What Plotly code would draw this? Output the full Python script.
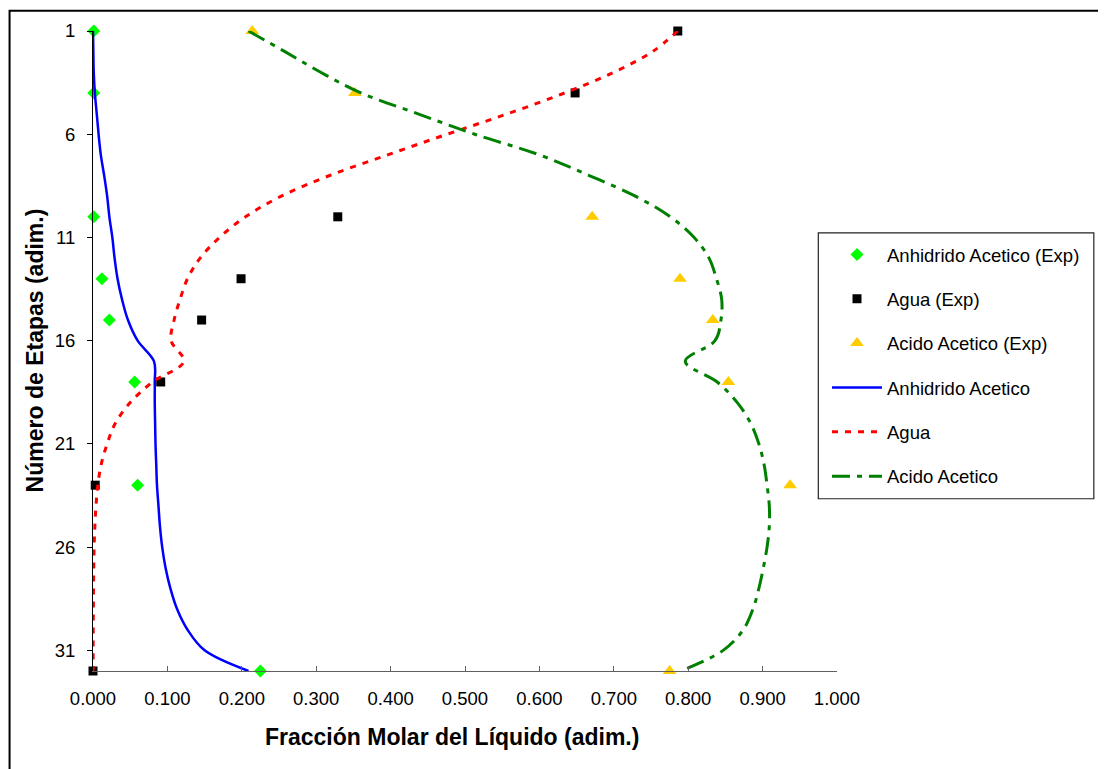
import plotly.graph_objects as go

# ---- data ----
stages_exp = [1, 4, 10, 13, 15, 18, 23, 32]
anhidrido_exp = [0.001, 0.001, 0.001, 0.012, 0.022, 0.056, 0.060, 0.225]
agua_exp = [0.786, 0.648, 0.329, 0.199, 0.146, 0.091, 0.003, 0.000]
acido_exp = [0.214, 0.352, 0.671, 0.789, 0.833, 0.854, 0.937, 0.775]

stages = list(range(1, 33))
anhidrido_calc = [0.000, 0.0005, 0.001, 0.0025, 0.005, 0.0075, 0.0105, 0.015,
                  0.019, 0.022, 0.026, 0.029, 0.033, 0.039, 0.047, 0.060,
                  0.082, 0.083, 0.083, 0.0835, 0.084, 0.085, 0.086, 0.088,
                  0.090, 0.093, 0.0975, 0.104, 0.113, 0.127, 0.150, 0.209]
agua_calc = [0.786, 0.752, 0.700, 0.634, 0.558, 0.476, 0.396, 0.318,
             0.253, 0.205, 0.170, 0.144, 0.127, 0.117, 0.109, 0.105,
             0.122, 0.080, 0.050, 0.030, 0.019, 0.011, 0.0065, 0.004,
             0.0025, 0.0015, 0.001, 0.0007, 0.0005, 0.0003, 0.0002, 0.0001]
acido_calc = [0.209, 0.258, 0.306, 0.360, 0.436, 0.513, 0.600, 0.667,
              0.729, 0.776, 0.808, 0.828, 0.838, 0.845, 0.844, 0.836,
              0.796, 0.839, 0.866, 0.884, 0.895, 0.902, 0.906, 0.909,
              0.909, 0.906, 0.901, 0.895, 0.887, 0.874, 0.847, 0.790]

x_ticks = [i / 10 for i in range(11)]
y_ticks = [1, 6, 11, 16, 21, 26, 31]

FONT = "Arial, Liberation Sans, sans-serif"

fig = go.Figure()

fig.add_trace(go.Scatter(x=anhidrido_exp, y=stages_exp, mode="markers",
                         name="Anhidrido Acetico (Exp)", legendgroup="a",
                         marker=dict(symbol="diamond", size=10, color="#00FF00"),
                         cliponaxis=False))
fig.add_trace(go.Scatter(x=agua_exp, y=stages_exp, mode="markers",
                         name="Agua (Exp)", legendgroup="b",
                         marker=dict(symbol="square", size=9, color="#000000"),
                         cliponaxis=False))
fig.add_trace(go.Scatter(x=acido_exp, y=stages_exp, mode="markers",
                         name="Acido Acetico (Exp)", legendgroup="c",
                         marker=dict(symbol="triangle-up", size=12, color="#FFCC00"),
                         cliponaxis=False))
fig.add_trace(go.Scatter(x=anhidrido_calc, y=stages, mode="lines",
                         name="Anhidrido Acetico", legendgroup="d",
                         line=dict(color="#0000FF", width=2.5, shape="spline", smoothing=1),
                         cliponaxis=False))
fig.add_trace(go.Scatter(x=agua_calc, y=stages, mode="lines",
                         name="Agua", legendgroup="e",
                         line=dict(color="#FF0000", width=3, dash="6px,7px",
                                   shape="spline", smoothing=1),
                         cliponaxis=False))
fig.add_trace(go.Scatter(x=acido_calc, y=stages, mode="lines",
                         name="Acido Acetico", legendgroup="f",
                         line=dict(color="#008000", width=3, dash="18px,7px,5px,7px",
                                   shape="spline", smoothing=1),
                         cliponaxis=False))

# page coordinates of the reference (the page body adds an 8px offset)
OFF = 8
L, R, T, B = 92.5, 837.0, 29.3, 671.0
W, H = 1106 - OFF, 769 - OFF
pw, ph = R - L, B - T


def px(xp):
    return (xp - L) / pw


def py(yp):
    return (B - yp) / ph


fig.update_layout(
    width=W, height=H,
    margin=dict(l=L - OFF, r=W - (R - OFF), t=T - OFF, b=H - (B - OFF), pad=0),
    paper_bgcolor="white", plot_bgcolor="white",
    font=dict(family=FONT, size=18.5, color="black"),
    showlegend=True,
    legend=dict(x=px(827), y=py(234.7), xanchor="left", yanchor="top",
                bgcolor="rgba(0,0,0,0)", borderwidth=0,
                font=dict(family=FONT, size=18.5, color="black"),
                traceorder="grouped", tracegroupgap=17.3, itemwidth=50),
    xaxis=dict(range=[0, 1], tickvals=x_ticks, tickformat=".3f",
               showgrid=False, zeroline=False, showline=True,
               linecolor="#606060", linewidth=1.3,
               ticks="inside", ticklen=5, tickcolor="#606060",
               tickfont=dict(family=FONT, size=18.5, color="black"),
               ticklabelstandoff=11),
    yaxis=dict(range=[32, 1], tickvals=y_ticks,
               showgrid=False, zeroline=False, showline=True,
               linecolor="black", linewidth=1,
               ticks="outside", ticklen=5, tickcolor="black",
               tickfont=dict(family=FONT, size=18.5, color="black"),
               ticklabelstandoff=8),
    annotations=[
        dict(text="<b>Fracción Molar del Líquido (adim.)</b>", xref="paper", yref="paper",
             x=px(451.5), y=py(737), xanchor="center", yanchor="middle", showarrow=False,
             font=dict(family=FONT, size=23, color="black")),
        dict(text="<b>Número de Etapas (adim.)</b>", xref="paper", yref="paper",
             x=px(34), y=py(350), xanchor="center", yanchor="middle", showarrow=False,
             textangle=-90, font=dict(family=FONT, size=23, color="black")),
    ],
    shapes=[
        dict(type="rect", xref="paper", yref="paper",
             x0=px(818.3), x1=px(1094), y0=py(498.3), y1=py(231.7),
             line=dict(color="#222222", width=1.2), fillcolor="rgba(0,0,0,0)"),
        dict(type="rect", xref="paper", yref="paper",
             x0=px(OFF + 1), x1=px(1140), y0=py(820), y1=py(OFF + 1),
             line=dict(color="black", width=2), fillcolor="rgba(0,0,0,0)"),
    ],
)

fig.write_html("out.html")
